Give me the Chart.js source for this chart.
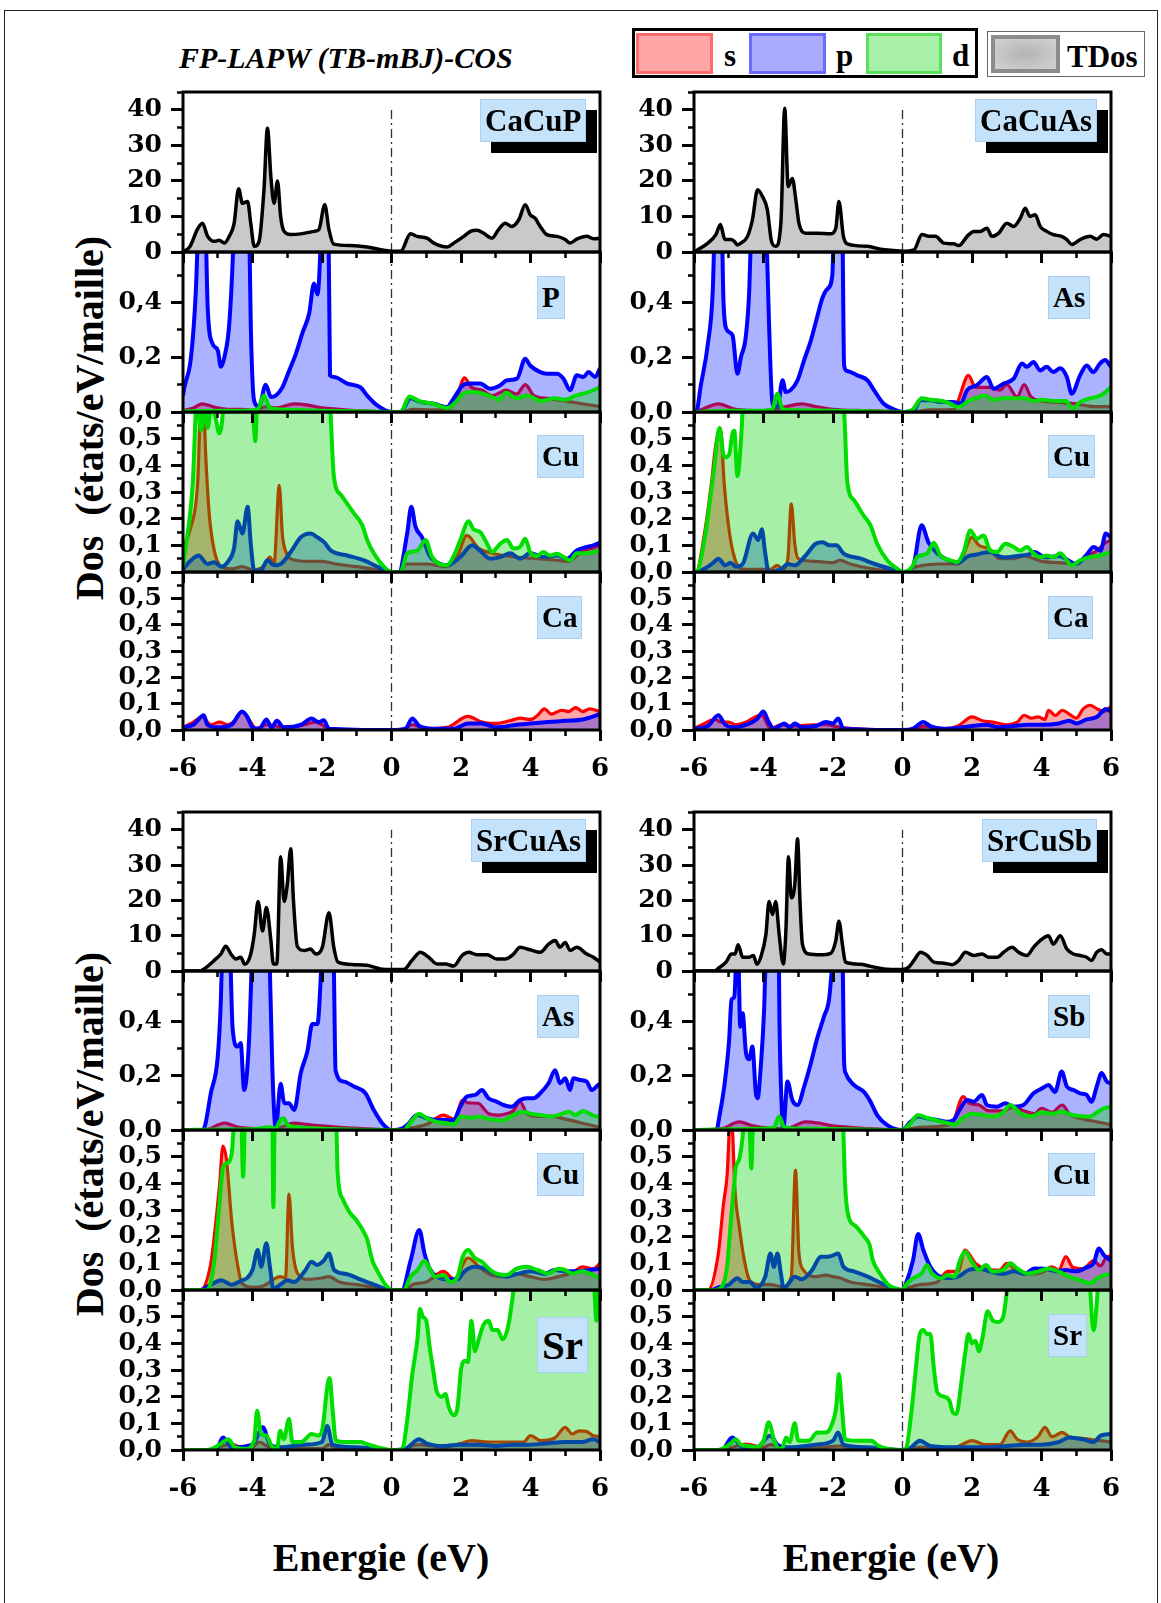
<!DOCTYPE html>
<html lang="fr">
<head>
<meta charset="UTF-8">
<title>DOS CaCuP, CaCuAs, SrCuAs, SrCuSb</title>
<script src="https://cdn.jsdelivr.net/npm/chart.js"></script>
<style>
  html, body { margin: 0; padding: 0; background: #fff; }
  body { width: 1161px; height: 1603px; position: relative; overflow: hidden;
         font-family: 'Liberation Serif', 'Times New Roman', serif; font-weight: bold; color: #000; }
  .abs { position: absolute; white-space: pre; }
  .frame { position: absolute; left: 4px; top: 10px; width: 1154px; height: 1600px; border: 1.5px solid #222; box-sizing: border-box; }
  .title { left: 179px; top: 40px; font-size: 30px; line-height: 36px; font-style: italic; }
  .legend { left: 632px; top: 28px; width: 346px; height: 50px; border: 3px solid #000; box-sizing: border-box; }
  .legend2 { left: 987px; top: 31px; width: 158px; height: 46px; border: 1.5px solid #666; box-sizing: border-box; }
  .sw { position: absolute; box-sizing: border-box; border-width: 3px; border-style: solid; }
  .lt { position: absolute; font-size: 31px; line-height: 40px; }
  .ytitle { font-size: 40px; line-height: 46px; transform: translate(-50%, -50%) rotate(-90deg); }
  .xtitle { font-size: 40px; line-height: 46px; transform: translate(-50%, -50%); }
  .plot { position: absolute; }
  .cbox, .ebox { position: absolute; background: #c4e3fb; border: 1.5px solid #a9d0f3; padding: 0 4px; z-index: 30; white-space: pre; }
  .cbox { font-size: 31px; line-height: 41px; box-shadow: 11px 11px 0 #000; }
  .ebox { font-size: 29px; line-height: 41px; }
</style>
</head>
<body>
<div class="frame"></div>
<div class="abs title">FP-LAPW (TB-mBJ)-COS</div>

<div class="abs legend"></div>
<div class="sw" style="left:636px;top:33px;width:77px;height:41px;background:#ffa6a6;border-color:#ff6a6a;"></div>
<div class="lt" style="left:724px;top:36px;">s</div>
<div class="sw" style="left:749px;top:33px;width:77px;height:41px;background:#aaaaff;border-color:#6a6aff;"></div>
<div class="lt" style="left:836px;top:36px;">p</div>
<div class="sw" style="left:866px;top:33px;width:76px;height:41px;background:#a8f0a8;border-color:#5ee05e;"></div>
<div class="lt" style="left:952px;top:36px;">d</div>
<div class="abs legend2"></div>
<div class="sw" style="left:991px;top:35px;width:69px;height:38px;background:radial-gradient(#b4b4b4, #d2d2d2);border-color:#8c8c8c;border-width:4px;"></div>
<div class="lt" style="left:1067px;top:37px;">TDos</div>

<div class="abs ytitle" style="left:90px;top:418px;">Dos  (états/eV/maille)</div>
<div class="abs ytitle" style="left:90px;top:1134px;">Dos  (états/eV/maille)</div>
<div class="abs xtitle" style="left:381px;top:1558px;">Energie (eV)</div>
<div class="abs xtitle" style="left:891px;top:1558px;">Energie (eV)</div>

<script>
// ---------- CaCuP ----------
const cacupTdos = [[-6,0],[-5.8,1.5],[-5.58,6.5],[-5.44,8.1],[-5.29,4.4],[-5.1,3],[-4.96,3.3],[-4.81,2.5],[-4.67,4.4],[-4.53,8],[-4.4,17.8],[-4.29,13.7],[-4.14,14.2],[-4.05,8],[-3.95,1.6],[-3.81,3],[-3.67,17.5],[-3.57,34.8],[-3.47,21],[-3.38,13.7],[-3.28,20],[-3.19,10],[-3.09,5.8],[-2.9,4.9],[-2.61,5.1],[-2.23,5.8],[-2.09,6.3],[-1.92,13.3],[-1.8,6.3],[-1.66,2.2],[-1.18,1.8],[-0.7,1.4],[-0.22,0.5],[0,0.2],[0.26,0.2],[0.55,5.1],[0.74,4.4],[1.02,3.9],[1.22,2.5],[1.6,1.4],[1.79,2.5],[2.08,4.4],[2.27,5.8],[2.46,6.1],[2.65,5.3],[2.89,3.9],[3.08,6.3],[3.27,8.1],[3.46,7.2],[3.66,9],[3.85,13.3],[3.99,10.5],[4.13,9.5],[4.28,7.2],[4.47,4.9],[4.76,4.4],[5.0,3.5],[5.14,2.5],[5.33,3.6],[5.62,4.4],[5.81,3.7],[6,3.9]];
const cacupP_s = [[-6,0.005],[-5.7,0.015],[-5.45,0.03],[-5.1,0.018],[-4.7,0.01],[-4.3,0.01],[-3.95,0.005],[-3.6,0.02],[-3.3,0.015],[-2.8,0.03],[-2.4,0.025],[-2.0,0.015],[-1.5,0.01],[-1,0.005],[0,0],[0.3,0],[0.6,0.01],[1.2,0.008],[1.6,0.01],[1.85,0.04],[2.1,0.125],[2.3,0.09],[2.6,0.08],[2.9,0.06],[3.3,0.08],[3.6,0.065],[3.85,0.1],[4.1,0.06],[4.5,0.05],[5.0,0.04],[5.5,0.03],[6,0.02]];
const cacupP_p = [[-6,0.06],[-5.96,0.09],[-5.77,0.2],[-5.63,0.445],[-5.5,0.9],[-5.42,0.95],[-5.35,0.7],[-5.29,0.384],[-5.15,0.25],[-5.0,0.226],[-4.91,0.165],[-4.81,0.2],[-4.67,0.32],[-4.55,0.62],[-4.4,1.3],[-4.25,1.4],[-4.12,0.9],[-4.05,0.32],[-3.95,0.04],[-3.81,0.02],[-3.62,0.1],[-3.47,0.055],[-3.33,0.06],[-3.14,0.09],[-2.95,0.15],[-2.76,0.21],[-2.56,0.29],[-2.37,0.36],[-2.23,0.47],[-2.13,0.43],[-2.04,0.62],[-1.95,1.1],[-1.82,0.8],[-1.77,0.134],[-1.66,0.128],[-1.27,0.104],[-0.89,0.09],[-0.7,0.06],[-0.41,0.024],[0,0],[0.26,0],[0.55,0.05],[0.83,0.037],[1.22,0.03],[1.6,0.018],[1.79,0.05],[2.08,0.1],[2.27,0.104],[2.55,0.104],[2.84,0.085],[3.13,0.098],[3.32,0.116],[3.61,0.122],[3.85,0.195],[3.99,0.17],[4.28,0.146],[4.47,0.14],[4.76,0.14],[4.95,0.122],[5.14,0.08],[5.33,0.134],[5.52,0.128],[5.67,0.146],[5.86,0.128],[6,0.16]];
const cacupP_d = [[-6,0.003],[-5,0.005],[-4.2,0.005],[-3.85,0.01],[-3.67,0.06],[-3.5,0.015],[-3,0.008],[-2,0.005],[-1,0.003],[0,0],[0.26,0],[0.52,0.057],[0.8,0.04],[1.2,0.03],[1.6,0.015],[1.8,0.03],[2.1,0.07],[2.4,0.073],[2.8,0.06],[3.1,0.045],[3.3,0.07],[3.6,0.05],[3.9,0.06],[4.3,0.04],[4.7,0.05],[5.0,0.045],[5.3,0.06],[5.6,0.07],[6,0.09]];
const cacupCu_s = [[-6,0.09],[-5.77,0.17],[-5.58,0.33],[-5.45,0.75],[-5.34,0.42],[-5.24,0.21],[-5.1,0.08],[-4.9,0.02],[-4.6,0.012],[-4.3,0.02],[-4.0,0.008],[-3.7,0.02],[-3.5,0.056],[-3.38,0.03],[-3.23,0.325],[-3.14,0.14],[-3.05,0.08],[-2.8,0.045],[-2.4,0.04],[-2.0,0.04],[-1.6,0.03],[-1.0,0.02],[-0.5,0.01],[0,0],[0.2,0],[0.45,0.03],[1.0,0.03],[1.6,0.02],[1.9,0.06],[2.17,0.137],[2.5,0.09],[2.9,0.07],[3.3,0.06],[3.7,0.055],[4.2,0.05],[4.7,0.045],[5.1,0.04],[5.5,0.08],[5.8,0.09],[6,0.1]];
const cacupCu_p = [[-6,0.01],[-5.8,0.04],[-5.55,0.062],[-5.3,0.03],[-5.1,0.037],[-4.9,0.02],[-4.7,0.04],[-4.53,0.09],[-4.43,0.19],[-4.29,0.144],[-4.14,0.245],[-4.05,0.106],[-3.95,0.006],[-3.76,0.006],[-3.57,0.044],[-3.38,0.025],[-3.19,0.03],[-2.9,0.075],[-2.61,0.13],[-2.33,0.144],[-2.13,0.13],[-1.94,0.112],[-1.75,0.081],[-1.27,0.062],[-0.79,0.044],[-0.41,0.02],[0,0],[0.21,0],[0.45,0.144],[0.57,0.245],[0.69,0.17],[0.88,0.13],[1.1,0.06],[1.22,0.044],[1.6,0.025],[1.98,0.056],[2.32,0.1],[2.55,0.08],[2.84,0.05],[3.13,0.056],[3.42,0.07],[3.7,0.05],[3.99,0.07],[4.37,0.056],[4.76,0.062],[5.05,0.05],[5.33,0.081],[5.62,0.094],[5.81,0.1],[6,0.11]];
const cacupCu_d = [[-6,0.02],[-5.72,0.33],[-5.6,0.65],[-5.48,0.53],[-5.38,0.62],[-5.29,0.54],[-5.18,0.64],[-5.05,0.57],[-4.96,0.52],[-4.86,0.59],[-4.75,0.9],[-4.5,1.4],[-4.2,1.2],[-4.05,0.8],[-3.96,0.55],[-3.92,0.49],[-3.86,0.7],[-3.6,2.2],[-3.3,3.5],[-3.0,2.6],[-2.6,1.8],[-2.2,1.4],[-1.9,1.0],[-1.77,0.65],[-1.66,0.36],[-1.46,0.29],[-1.08,0.22],[-0.84,0.175],[-0.7,0.12],[-0.51,0.07],[-0.22,0.02],[0,0],[0.26,0],[0.45,0.07],[0.74,0.08],[0.98,0.12],[1.17,0.056],[1.6,0.025],[1.79,0.06],[1.98,0.12],[2.22,0.19],[2.36,0.16],[2.55,0.15],[2.75,0.106],[2.89,0.075],[3.13,0.106],[3.32,0.12],[3.51,0.088],[3.7,0.094],[3.85,0.125],[3.99,0.075],[4.18,0.06],[4.37,0.075],[4.56,0.062],[4.76,0.068],[4.95,0.056],[5.14,0.044],[5.33,0.07],[5.62,0.07],[5.81,0.075],[6,0.08]];
const cacupCa_s = [[-6,0.01],[-5.7,0.03],[-5.45,0.05],[-5.2,0.02],[-4.95,0.03],[-4.7,0.02],[-4.5,0.037],[-4.3,0.07],[-4.1,0.04],[-3.9,0.005],[-3.6,0.02],[-3.3,0.015],[-3.0,0.01],[-2.5,0.02],[-2.2,0.03],[-2.0,0.02],[-1.8,0.002],[0,0],[0.3,0],[0.6,0.02],[1.0,0.005],[1.6,0.01],[2.2,0.052],[2.6,0.03],[3.0,0.025],[3.4,0.035],[3.7,0.045],[4.0,0.04],[4.2,0.055],[4.4,0.08],[4.6,0.06],[4.9,0.075],[5.1,0.07],[5.3,0.085],[5.5,0.07],[5.7,0.08],[6,0.07]];
const cacupCa_p = [[-6,0.01],[-5.7,0.02],[-5.4,0.056],[-5.3,0.02],[-5.0,0.01],[-4.6,0.02],[-4.3,0.07],[-4.15,0.05],[-4.0,0.01],[-3.8,0.005],[-3.6,0.04],[-3.45,0.01],[-3.3,0.035],[-3.1,0.01],[-2.6,0.02],[-2.3,0.044],[-2.1,0.03],[-1.95,0.037],[-1.8,0.005],[0,0],[0.4,0.005],[0.6,0.044],[0.8,0.015],[1.2,0.005],[1.8,0.005],[2.2,0.025],[2.6,0.025],[3.0,0.01],[3.6,0.02],[4.0,0.025],[4.5,0.03],[5.0,0.035],[5.5,0.04],[6,0.06]];

// ---------- CaCuAs ----------
const cacuasTdos = [[-6,0],[-5.9,0.6],[-5.6,2.5],[-5.37,4.9],[-5.24,7.7],[-5.11,3.5],[-4.94,3.5],[-4.84,3],[-4.75,2],[-4.65,2.5],[-4.46,4.4],[-4.32,9],[-4.17,17.5],[-4.03,15.6],[-3.89,11.9],[-3.77,3],[-3.65,1.6],[-3.5,8.1],[-3.39,40.4],[-3.29,18.4],[-3.17,20.7],[-3.07,14.7],[-2.98,8.1],[-2.78,5.3],[-2.45,5.3],[-2.07,5.1],[-1.92,6.7],[-1.83,14.2],[-1.7,4.4],[-1.59,2.3],[-1.01,1.6],[-0.63,0.8],[-0.25,0.4],[0,0.2],[0.33,0.6],[0.56,4.9],[0.76,4.4],[0.95,4.4],[1.19,2.5],[1.47,2.3],[1.62,1.8],[1.86,4.4],[2.05,5.8],[2.24,5.8],[2.43,6.7],[2.57,4.4],[2.77,5.3],[3.0,8.1],[3.2,7.2],[3.39,9.5],[3.53,12.3],[3.67,10],[3.82,10.5],[3.96,7.2],[4.15,5.8],[4.34,4.9],[4.58,4.4],[4.73,3.5],[4.87,2.1],[5.11,3.5],[5.4,4.4],[5.59,3.6],[5.78,4.9],[6,4.4]];
const cacuasAs_s = [[-6,0],[-5.8,0.008],[-5.3,0.03],[-4.8,0.01],[-4.0,0.005],[-3.5,0.015],[-2.9,0.03],[-2.5,0.02],[-2.0,0.01],[-1,0.005],[0,0],[0.3,0],[0.8,0.008],[1.5,0.01],[1.6,0.04],[1.9,0.134],[2.1,0.09],[2.5,0.09],[2.8,0.08],[3.0,0.1],[3.3,0.055],[3.5,0.1],[3.7,0.055],[4.0,0.04],[4.5,0.035],[5,0.03],[5.5,0.02],[6,0.02]];
const cacuasAs_p = [[-6,0],[-5.94,0],[-5.8,0.1],[-5.6,0.25],[-5.46,0.445],[-5.37,0.85],[-5.28,0.95],[-5.2,0.7],[-5.15,0.4],[-5.05,0.3],[-4.89,0.28],[-4.75,0.14],[-4.65,0.2],[-4.51,0.275],[-4.41,0.445],[-4.3,0.9],[-4.15,1.3],[-3.98,0.9],[-3.88,0.5],[-3.84,0.32],[-3.74,0.03],[-3.6,0.018],[-3.45,0.116],[-3.36,0.073],[-3.22,0.08],[-3.02,0.116],[-2.83,0.19],[-2.64,0.26],[-2.45,0.35],[-2.31,0.415],[-2.16,0.45],[-2.02,0.5],[-1.93,0.9],[-1.8,0.9],[-1.73,0.7],[-1.68,0.17],[-1.59,0.15],[-1.3,0.134],[-1.01,0.116],[-0.82,0.08],[-0.54,0.03],[-0.25,0.01],[0,0],[0.33,0.006],[0.52,0.043],[0.8,0.043],[1.09,0.037],[1.47,0.037],[1.67,0.03],[1.86,0.08],[2.14,0.098],[2.43,0.128],[2.62,0.085],[2.91,0.104],[3.2,0.122],[3.44,0.177],[3.58,0.165],[3.77,0.183],[3.96,0.152],[4.15,0.165],[4.34,0.146],[4.54,0.16],[4.73,0.128],[4.87,0.067],[5.11,0.134],[5.3,0.17],[5.49,0.146],[5.68,0.177],[5.83,0.19],[6,0.165]];
const cacuasAs_d = [[-6,0],[-5,0.005],[-4,0.005],[-3.75,0.01],[-3.6,0.067],[-3.45,0.01],[-3,0.006],[-2,0.005],[-1,0.003],[0,0],[0.3,0.01],[0.55,0.05],[0.8,0.045],[1.0,0.043],[1.3,0.035],[1.6,0.018],[1.9,0.04],[2.2,0.055],[2.4,0.06],[2.6,0.045],[2.9,0.05],[3.2,0.05],[3.5,0.05],[3.8,0.04],[4.0,0.045],[4.4,0.04],[4.7,0.04],[4.9,0.012],[5.1,0.035],[5.4,0.05],[5.7,0.06],[6,0.09]];
const cacuasCu_s = [[-6,0],[-5.94,0],[-5.7,0.144],[-5.51,0.32],[-5.37,0.48],[-5.24,0.54],[-5.13,0.33],[-4.99,0.156],[-4.84,0.056],[-4.65,0.012],[-4.3,0.01],[-3.8,0.01],[-3.6,0.025],[-3.45,0.01],[-3.3,0.05],[-3.2,0.256],[-3.1,0.106],[-3.0,0.05],[-2.5,0.04],[-2.0,0.035],[-1.8,0.044],[-1.5,0.03],[-1,0.015],[0,0],[0.4,0.02],[1.0,0.03],[1.6,0.03],[2.0,0.13],[2.2,0.1],[2.5,0.087],[2.8,0.05],[3.2,0.05],[3.5,0.06],[4,0.04],[4.5,0.035],[5,0.03],[5.3,0.06],[5.6,0.08],[5.8,0.106],[6,0.12]];
const cacuasCu_p = [[-6,0],[-5.94,0],[-5.6,0.02],[-5.4,0.04],[-5.3,0.05],[-5.1,0.025],[-4.95,0.035],[-4.8,0.02],[-4.6,0.03],[-4.3,0.144],[-4.15,0.12],[-4.05,0.16],[-3.95,0.07],[-3.85,0.0],[-3.5,0.01],[-3.3,0.03],[-3.1,0.025],[-2.8,0.06],[-2.5,0.106],[-2.3,0.112],[-2.1,0.1],[-1.9,0.1],[-1.7,0.07],[-1.2,0.05],[-0.8,0.03],[-0.3,0.01],[0,0],[0.3,0.02],[0.55,0.175],[0.75,0.11],[1.0,0.07],[1.3,0.045],[1.6,0.035],[1.9,0.06],[2.1,0.065],[2.5,0.075],[2.9,0.055],[3.3,0.06],[3.6,0.065],[3.8,0.075],[4.1,0.055],[4.5,0.06],[5.0,0.03],[5.3,0.065],[5.5,0.094],[5.7,0.08],[5.85,0.144],[6,0.13]];
const cacuasCu_d = [[-6,0],[-5.94,0],[-5.7,0.12],[-5.42,0.39],[-5.27,0.54],[-5.13,0.43],[-4.99,0.44],[-4.89,0.52],[-4.84,0.53],[-4.75,0.36],[-4.65,0.49],[-4.55,0.75],[-4.3,1.3],[-4.0,1.6],[-3.6,2.5],[-3.3,3.8],[-3.0,2.6],[-2.6,1.8],[-2.2,1.3],[-1.8,0.9],[-1.66,0.55],[-1.59,0.34],[-1.4,0.27],[-1.11,0.21],[-0.92,0.175],[-0.73,0.106],[-0.44,0.044],[-0.15,0.012],[0,0],[0.28,0.02],[0.42,0.056],[0.71,0.07],[0.9,0.11],[1.09,0.062],[1.38,0.044],[1.57,0.037],[1.76,0.075],[1.95,0.156],[2.14,0.125],[2.33,0.137],[2.53,0.08],[2.72,0.075],[2.96,0.106],[3.2,0.094],[3.39,0.08],[3.58,0.094],[3.77,0.07],[3.96,0.056],[4.15,0.062],[4.34,0.056],[4.54,0.07],[4.73,0.044],[4.87,0.025],[5.11,0.044],[5.4,0.056],[5.68,0.062],[6,0.075]];
const cacuasCa_s = [[-6,0.005],[-5.7,0.025],[-5.4,0.04],[-5.2,0.03],[-5.0,0.03],[-4.8,0.02],[-4.5,0.03],[-4.1,0.056],[-4.0,0.05],[-3.8,0.005],[-3.5,0.02],[-3.2,0.015],[-2.5,0.02],[-2.2,0.02],[-1.8,0.01],[0,0],[0.3,0],[0.6,0.015],[1.2,0.005],[1.6,0.015],[2.0,0.05],[2.3,0.035],[2.6,0.03],[3.0,0.02],[3.3,0.03],[3.5,0.056],[3.7,0.045],[3.9,0.05],[4.1,0.04],[4.2,0.075],[4.4,0.055],[4.6,0.075],[4.8,0.06],[5.0,0.045],[5.2,0.08],[5.4,0.094],[5.6,0.08],[5.8,0.07],[6,0.09]];
const cacuasCa_p = [[-6,0.005],[-5.6,0.015],[-5.3,0.056],[-5.1,0.02],[-4.8,0.01],[-4.5,0.02],[-4.2,0.04],[-4.0,0.07],[-3.85,0.03],[-3.7,0.005],[-3.4,0.025],[-3.25,0.01],[-3.1,0.025],[-2.9,0.01],[-2.5,0.015],[-2.2,0.03],[-2.0,0.025],[-1.85,0.044],[-1.7,0.005],[0,0],[0.3,0.005],[0.6,0.03],[0.8,0.015],[1.2,0.005],[2,0.015],[2.4,0.02],[2.8,0.01],[3.2,0.015],[3.6,0.02],[4,0.02],[4.5,0.025],[4.8,0.035],[5.0,0.025],[5.3,0.04],[5.6,0.05],[5.85,0.08],[6,0.07]];

// ---------- SrCuAs ----------
const srcuasTdos = [[-6,0],[-5.5,0],[-5.39,0.6],[-5.1,3],[-4.91,4.8],[-4.77,7],[-4.62,4.8],[-4.48,3.4],[-4.34,3.9],[-4.22,1.9],[-4.05,4.8],[-3.95,10.4],[-3.84,19.7],[-3.71,11.3],[-3.6,18],[-3.47,8.6],[-3.4,2],[-3.3,2],[-3.19,32.3],[-3.09,19.7],[-3.0,24.4],[-2.9,34.6],[-2.82,19.7],[-2.71,7],[-2.52,5.8],[-2.33,6.2],[-2.18,4.8],[-1.99,6.7],[-1.8,16.5],[-1.66,6.7],[-1.54,2.5],[-1.08,1.8],[-0.7,1.6],[-0.32,0.6],[0,0.4],[0.35,0.4],[0.59,3],[0.83,5.3],[1.07,3.9],[1.31,2],[1.55,2],[1.79,1.4],[2.03,4.4],[2.22,5.3],[2.46,4.6],[2.75,4.6],[3.03,3.4],[3.27,3.4],[3.51,4.8],[3.7,6.7],[3.99,6],[4.28,5.3],[4.52,7.6],[4.71,8.6],[4.85,6.7],[5.0,8.1],[5.14,5.8],[5.33,6.7],[5.62,4.8],[5.81,3.9],[6,2.5]];
const srcuasAs_s = [[-6,0],[-5.4,0],[-4.8,0.025],[-4.4,0.01],[-3.6,0.005],[-3.2,0.01],[-2.8,0.025],[-2.4,0.02],[-2.0,0.015],[-1.5,0.01],[-0.8,0.005],[0,0],[0.4,0.005],[1.0,0.02],[1.5,0.055],[1.8,0.04],[2.05,0.11],[2.2,0.1],[2.5,0.098],[2.8,0.06],[3.1,0.055],[3.3,0.06],[3.5,0.07],[3.7,0.104],[3.9,0.06],[4.2,0.05],[4.6,0.05],[5,0.04],[5.5,0.025],[6,0.01]];
const srcuasAs_p = [[-6,0],[-5.45,0],[-5.39,0.006],[-5.2,0.135],[-5.0,0.27],[-4.91,0.48],[-4.83,0.85],[-4.75,1.0],[-4.67,0.8],[-4.57,0.37],[-4.43,0.307],[-4.34,0.32],[-4.24,0.147],[-4.1,0.33],[-4.0,0.7],[-3.8,1.3],[-3.6,1.2],[-3.52,0.7],[-3.43,0.23],[-3.33,0.006],[-3.19,0.17],[-3.09,0.1],[-2.95,0.098],[-2.8,0.074],[-2.61,0.21],[-2.42,0.29],[-2.28,0.39],[-2.13,0.39],[-2.04,0.55],[-1.96,0.8],[-1.75,0.9],[-1.66,0.6],[-1.61,0.22],[-1.37,0.178],[-1.08,0.16],[-0.75,0.135],[-0.51,0.074],[-0.22,0.018],[0,0],[0.3,0.005],[0.45,0.018],[0.74,0.055],[1.02,0.043],[1.31,0.037],[1.6,0.037],[1.79,0.037],[1.98,0.086],[2.17,0.123],[2.41,0.129],[2.6,0.147],[2.79,0.117],[3.03,0.104],[3.22,0.092],[3.46,0.086],[3.7,0.11],[3.89,0.117],[4.09,0.117],[4.28,0.135],[4.52,0.172],[4.71,0.22],[4.85,0.172],[5.0,0.19],[5.14,0.147],[5.23,0.19],[5.43,0.184],[5.62,0.178],[5.76,0.147],[5.95,0.166],[6,0.17]];
const srcuasAs_d = [[-6,0],[-5,0.002],[-4,0.003],[-3.5,0.01],[-3.33,0.005],[-3.2,0.037],[-3.1,0.043],[-3.0,0.02],[-2.7,0.01],[-2,0.005],[0,0],[0.35,0],[0.6,0.037],[0.8,0.06],[1.0,0.045],[1.3,0.03],[1.6,0.025],[1.8,0.02],[2.0,0.05],[2.3,0.045],[2.5,0.05],[2.8,0.04],[3.2,0.035],[3.5,0.055],[3.8,0.067],[4.0,0.06],[4.3,0.055],[4.6,0.05],[4.9,0.06],[5.1,0.067],[5.3,0.055],[5.5,0.07],[5.7,0.06],[5.9,0.05],[6,0.05]];
const srcuasCu_s = [[-6,0],[-5.5,0],[-5.2,0.1],[-5.05,0.26],[-4.95,0.39],[-4.85,0.54],[-4.75,0.49],[-4.6,0.26],[-4.45,0.11],[-4.3,0.025],[-4.0,0.01],[-3.7,0.015],[-3.2,0.05],[-3.05,0.045],[-2.95,0.36],[-2.85,0.16],[-2.7,0.062],[-2.4,0.04],[-2.0,0.045],[-1.8,0.05],[-1.5,0.03],[-1,0.02],[-0.5,0.01],[0,0],[0.4,0],[0.6,0.02],[1.0,0.03],[1.5,0.07],[1.8,0.04],[2.2,0.12],[2.5,0.09],[2.8,0.06],[3.2,0.05],[3.6,0.06],[4.0,0.05],[4.4,0.04],[4.8,0.05],[5.2,0.065],[5.5,0.087],[5.8,0.08],[6,0.1]];
const srcuasCu_p = [[-6,0],[-5.5,0],[-5.2,0.02],[-4.9,0.037],[-4.6,0.02],[-4.4,0.03],[-4.0,0.075],[-3.85,0.15],[-3.75,0.087],[-3.6,0.175],[-3.5,0.087],[-3.4,0.006],[-3.2,0.02],[-3.0,0.037],[-2.8,0.03],[-2.5,0.07],[-2.3,0.106],[-2.15,0.094],[-1.95,0.11],[-1.8,0.137],[-1.65,0.075],[-1.3,0.06],[-0.9,0.04],[-0.5,0.02],[0,0],[0.3,0],[0.55,0.11],[0.8,0.225],[0.95,0.137],[1.1,0.08],[1.3,0.05],[1.6,0.04],[1.9,0.04],[2.1,0.07],[2.4,0.087],[2.7,0.08],[3.0,0.06],[3.3,0.05],[3.6,0.06],[4.0,0.07],[4.4,0.06],[4.7,0.075],[5.0,0.07],[5.4,0.07],[5.7,0.075],[6,0.08]];
const srcuasCu_d = [[-6,0],[-5.3,0],[-5.1,0.11],[-4.95,0.325],[-4.85,0.46],[-4.75,0.475],[-4.6,0.51],[-4.5,0.7],[-4.35,0.8],[-4.27,0.425],[-4.2,0.8],[-3.9,1.5],[-3.6,2.2],[-3.45,1.2],[-3.4,0.31],[-3.33,1.2],[-3.0,2.8],[-2.6,2.0],[-2.2,1.4],[-1.8,1.0],[-1.6,0.7],[-1.55,0.44],[-1.4,0.34],[-1.2,0.29],[-1.0,0.26],[-0.75,0.206],[-0.7,0.19],[-0.55,0.11],[-0.4,0.07],[-0.2,0.025],[0,0],[0.35,0],[0.55,0.05],[0.75,0.075],[0.95,0.11],[1.1,0.08],[1.25,0.05],[1.5,0.056],[1.7,0.03],[1.9,0.05],[2.05,0.125],[2.2,0.15],[2.4,0.12],[2.6,0.106],[2.8,0.08],[3.0,0.062],[3.3,0.056],[3.6,0.08],[3.9,0.087],[4.2,0.075],[4.5,0.062],[4.8,0.08],[5.0,0.075],[5.2,0.062],[5.5,0.07],[5.7,0.062],[5.9,0.05],[6,0.04]];
const srcuasSr_s = [[-6,0],[-5.2,0],[-5.0,0.01],[-4.6,0.022],[-4.3,0.008],[-4.0,0.01],[-3.8,0.03],[-3.5,0.01],[-3,0.01],[-2,0.005],[-1.8,0.02],[-1.6,0.005],[0,0],[0.4,0],[0.5,0.01],[0.8,0.02],[1.5,0.01],[2.0,0.025],[2.3,0.035],[2.8,0.03],[3.4,0.03],[3.8,0.03],[4.0,0.054],[4.3,0.035],[4.7,0.045],[5.0,0.085],[5.2,0.06],[5.4,0.072],[5.6,0.07],[5.8,0.054],[6,0.05]];
const srcuasSr_p = [[-6,0],[-5.2,0],[-5.0,0.01],[-4.85,0.047],[-4.6,0.01],[-4.0,0.02],[-3.7,0.085],[-3.5,0.02],[-3.2,0.01],[-2.5,0.02],[-2.0,0.03],[-1.85,0.09],[-1.7,0.02],[-1.0,0.01],[0,0],[0.4,0.005],[0.8,0.04],[1.0,0.025],[1.5,0.015],[2.0,0.02],[2.5,0.02],[3.0,0.015],[3.5,0.02],[4.0,0.02],[4.5,0.025],[5.0,0.03],[5.5,0.03],[5.8,0.04],[6,0.03]];
const srcuasSr_d = [[-6,0],[-5.3,0],[-5.0,0.016],[-4.85,0.03],[-4.7,0.04],[-4.5,0.01],[-4.2,0.004],[-3.95,0.035],[-3.87,0.147],[-3.75,0.06],[-3.6,0.054],[-3.45,0.016],[-3.3,0.004],[-3.2,0.072],[-3.1,0.04],[-2.95,0.116],[-2.85,0.03],[-2.6,0.03],[-2.3,0.06],[-2.1,0.054],[-1.98,0.085],[-1.85,0.235],[-1.78,0.27],[-1.7,0.16],[-1.6,0.035],[-1.3,0.03],[-0.9,0.03],[-0.7,0.022],[-0.4,0.01],[0,0],[0.3,0],[0.45,0.11],[0.6,0.285],[0.75,0.42],[0.82,0.53],[0.9,0.5],[1.0,0.485],[1.1,0.385],[1.2,0.3],[1.3,0.22],[1.45,0.2],[1.55,0.21],[1.65,0.16],[1.8,0.13],[1.9,0.16],[2.0,0.3],[2.1,0.335],[2.2,0.33],[2.3,0.485],[2.4,0.37],[2.5,0.41],[2.65,0.47],[2.8,0.485],[2.9,0.45],[3.05,0.45],[3.2,0.415],[3.35,0.46],[3.5,0.59],[3.7,0.85],[4.2,1.0],[4.8,1.1],[5.4,0.95],[5.8,0.7],[5.9,0.485],[5.97,0.65],[6,0.7]];

// ---------- SrCuSb ----------
const srcusbTdos = [[-6,0],[-5.4,0],[-5.32,0.6],[-5.08,2.5],[-4.92,4.8],[-4.82,4.8],[-4.73,7.4],[-4.6,3.9],[-4.41,3.9],[-4.29,4.4],[-4.19,1.9],[-4.08,3.9],[-3.93,10.4],[-3.84,19.7],[-3.74,16],[-3.65,19.7],[-3.55,10.4],[-3.43,2],[-3.36,10.4],[-3.28,32.3],[-3.2,20.7],[-3.1,24.4],[-3.02,37.4],[-2.95,19.7],[-2.88,7.6],[-2.69,4.8],[-2.35,4.6],[-2.07,5],[-1.92,8.6],[-1.83,14.1],[-1.73,7.6],[-1.64,2.5],[-1.21,1.9],[-0.92,1.3],[-0.54,0.6],[0,0.4],[0.18,1.1],[0.33,3],[0.52,5.3],[0.71,4.4],[0.9,2.5],[1.19,2.2],[1.43,1.8],[1.62,3],[1.81,5.3],[2.05,4.4],[2.29,4.8],[2.48,3.9],[2.72,3.9],[2.91,5.3],[3.15,6.7],[3.34,5.3],[3.58,4.4],[3.77,6.7],[3.96,8.6],[4.2,10],[4.34,7.6],[4.54,10],[4.73,6.2],[4.92,4.8],[5.11,4.4],[5.3,3.9],[5.44,3],[5.59,5.3],[5.73,6],[5.88,4.8],[6,4.8]];
const srcusbSb_s = [[-6,0],[-5.2,0.005],[-4.7,0.03],[-4.3,0.015],[-3.6,0.005],[-3.2,0.01],[-2.8,0.03],[-2.4,0.025],[-2.0,0.015],[-1.5,0.01],[-1,0.005],[0,0],[0.5,0.01],[1.4,0.02],[1.75,0.123],[1.9,0.1],[2.2,0.092],[2.5,0.07],[2.9,0.07],[3.2,0.085],[3.5,0.07],[3.8,0.06],[4.0,0.08],[4.3,0.065],[4.6,0.092],[4.8,0.06],[5.2,0.04],[5.6,0.03],[6,0.02]];
const srcusbSb_p = [[-6,0],[-5.35,0],[-5.27,0.05],[-5.13,0.16],[-4.99,0.33],[-4.92,0.48],[-4.84,0.49],[-4.77,0.65],[-4.72,0.62],[-4.67,0.38],[-4.6,0.43],[-4.51,0.29],[-4.41,0.26],[-4.32,0.307],[-4.22,0.135],[-4.17,0.117],[-4.08,0.23],[-3.98,0.45],[-3.9,0.8],[-3.7,1.3],[-3.58,0.9],[-3.54,0.4],[-3.5,0.17],[-3.43,0.006],[-3.31,0.178],[-3.17,0.11],[-3.02,0.092],[-2.83,0.16],[-2.64,0.245],[-2.45,0.34],[-2.26,0.417],[-2.11,0.485],[-1.97,0.7],[-1.85,0.9],[-1.73,0.7],[-1.68,0.25],[-1.64,0.21],[-1.4,0.166],[-1.11,0.14],[-0.92,0.104],[-0.73,0.055],[-0.44,0.018],[0,0],[0.23,0.03],[0.47,0.05],[0.71,0.043],[1.0,0.037],[1.28,0.03],[1.47,0.037],[1.67,0.08],[1.86,0.11],[2.05,0.104],[2.29,0.129],[2.43,0.092],[2.72,0.086],[2.96,0.098],[3.2,0.086],[3.48,0.092],[3.77,0.135],[4.01,0.153],[4.2,0.166],[4.39,0.14],[4.58,0.215],[4.73,0.16],[4.92,0.147],[5.11,0.135],[5.3,0.129],[5.44,0.104],[5.59,0.16],[5.73,0.21],[5.88,0.178],[6,0.172]];
const srcusbSb_d = [[-6,0],[-5,0.003],[-4,0.005],[-3.7,0.01],[-3.55,0.05],[-3.4,0.01],[-3,0.005],[-2,0.004],[0,0],[0.2,0.02],[0.45,0.055],[0.7,0.045],[1.0,0.035],[1.3,0.025],[1.5,0.02],[1.75,0.045],[2.0,0.06],[2.3,0.055],[2.6,0.05],[2.9,0.065],[3.1,0.092],[3.4,0.06],[3.7,0.05],[4.0,0.065],[4.3,0.06],[4.6,0.067],[4.9,0.055],[5.2,0.05],[5.4,0.05],[5.6,0.065],[5.8,0.08],[6,0.085]];
const srcusbCu_s = [[-6,0],[-5.6,0],[-5.3,0.137],[-5.15,0.325],[-5.05,0.425],[-4.95,0.65],[-4.9,0.62],[-4.82,0.375],[-4.7,0.24],[-4.55,0.11],[-4.4,0.037],[-4.1,0.02],[-3.8,0.02],[-3.45,0.012],[-3.2,0.05],[-3.08,0.45],[-2.98,0.137],[-2.85,0.075],[-2.5,0.05],[-2.2,0.056],[-2.0,0.05],[-1.8,0.045],[-1.5,0.03],[-1,0.02],[-0.5,0.01],[0,0],[0.2,0.01],[0.5,0.02],[1.0,0.03],[1.3,0.07],[1.6,0.07],[1.8,0.15],[2.1,0.1],[2.4,0.08],[2.8,0.075],[3.0,0.1],[3.3,0.07],[3.7,0.06],[4.0,0.065],[4.3,0.087],[4.5,0.075],[4.7,0.125],[4.9,0.085],[5.2,0.08],[5.5,0.11],[5.7,0.09],[5.85,0.12],[6,0.13]];
const srcusbCu_p = [[-6,0],[-5.5,0],[-5.3,0.01],[-5.0,0.02],[-4.75,0.044],[-4.6,0.03],[-4.4,0.03],[-4.2,0.01],[-3.95,0.05],[-3.8,0.137],[-3.7,0.087],[-3.6,0.137],[-3.5,0.062],[-3.42,0.006],[-3.3,0.02],[-3.1,0.05],[-2.9,0.04],[-2.6,0.075],[-2.35,0.125],[-2.15,0.125],[-2.0,0.13],[-1.85,0.137],[-1.7,0.087],[-1.4,0.07],[-1.0,0.05],[-0.6,0.025],[0,0],[0.1,0.025],[0.3,0.11],[0.45,0.21],[0.6,0.15],[0.8,0.087],[1.0,0.056],[1.3,0.045],[1.6,0.05],[1.9,0.075],[2.2,0.08],[2.5,0.07],[2.9,0.06],[3.2,0.07],[3.5,0.06],[3.8,0.081],[4.1,0.08],[4.4,0.07],[4.7,0.075],[5.0,0.07],[5.3,0.085],[5.5,0.1],[5.65,0.156],[5.8,0.13],[6,0.11]];
const srcusbCu_d = [[-6,0],[-5.4,0],[-5.2,0.012],[-5.05,0.087],[-4.95,0.24],[-4.85,0.39],[-4.8,0.46],[-4.7,0.49],[-4.6,0.575],[-4.5,0.75],[-4.42,0.7],[-4.35,0.456],[-4.28,0.8],[-4.0,1.6],[-3.6,2.5],[-3.2,3.5],[-2.8,2.5],[-2.4,1.8],[-2.0,1.2],[-1.75,0.8],[-1.65,0.39],[-1.55,0.275],[-1.35,0.24],[-1.1,0.2],[-0.95,0.17],[-0.85,0.11],[-0.65,0.062],[-0.4,0.019],[-0.15,0.004],[0,0],[0.1,0.02],[0.3,0.044],[0.55,0.062],[0.7,0.094],[0.85,0.062],[1.1,0.044],[1.3,0.056],[1.5,0.05],[1.65,0.11],[1.8,0.144],[2.0,0.106],[2.2,0.075],[2.4,0.094],[2.6,0.069],[2.9,0.075],[3.1,0.1],[3.3,0.081],[3.6,0.062],[3.9,0.069],[4.2,0.081],[4.5,0.069],[4.8,0.05],[5.1,0.037],[5.4,0.025],[5.6,0.044],[5.8,0.056],[6,0.06]];
const srcusbSr_s = [[-6,0],[-5.2,0],[-4.9,0.01],[-4.5,0.022],[-4.0,0.01],[-3.8,0.02],[-3.5,0.01],[-2.5,0.008],[-1.8,0.015],[-1.5,0.005],[0,0],[0.5,0.01],[1.0,0.01],[1.5,0.01],[2.0,0.035],[2.4,0.02],[2.8,0.02],[3.1,0.072],[3.3,0.04],[3.6,0.03],[3.9,0.05],[4.1,0.085],[4.3,0.05],[4.6,0.066],[4.8,0.05],[5.1,0.045],[5.4,0.04],[5.7,0.035],[6,0.03]];
const srcusbSr_p = [[-6,0],[-5.2,0],[-4.9,0.047],[-4.6,0.01],[-4.2,0.01],[-3.8,0.054],[-3.6,0.02],[-3.3,0.01],[-2.5,0.02],[-2.0,0.035],[-1.85,0.066],[-1.7,0.02],[-1.0,0.01],[0,0],[0.2,0.005],[0.5,0.035],[0.8,0.015],[1.5,0.01],[2.0,0.01],[2.5,0.01],[3,0.015],[3.5,0.02],[4,0.02],[4.5,0.03],[4.8,0.047],[5.2,0.04],[5.5,0.03],[5.7,0.054],[6,0.06]];
const srcusbSr_d = [[-6,0],[-5.3,0],[-5.1,0.01],[-4.9,0.03],[-4.8,0.04],[-4.65,0.02],[-4.45,0.015],[-4.2,0.01],[-4.0,0.035],[-3.85,0.104],[-3.7,0.04],[-3.55,0.004],[-3.45,0.01],[-3.35,0.047],[-3.25,0.03],[-3.1,0.1],[-3.0,0.035],[-2.7,0.035],[-2.45,0.066],[-2.2,0.066],[-2.05,0.09],[-1.9,0.17],[-1.83,0.285],[-1.75,0.17],[-1.65,0.04],[-1.3,0.035],[-0.9,0.035],[-0.7,0.016],[-0.4,0.004],[0,0],[0.1,0.005],[0.25,0.135],[0.35,0.26],[0.5,0.435],[0.6,0.45],[0.7,0.435],[0.8,0.435],[0.9,0.31],[1.0,0.216],[1.2,0.2],[1.35,0.185],[1.45,0.14],[1.55,0.135],[1.7,0.26],[1.8,0.36],[1.9,0.435],[2.0,0.4],[2.1,0.41],[2.2,0.37],[2.3,0.42],[2.45,0.52],[2.6,0.485],[2.75,0.48],[2.9,0.5],[3.0,0.59],[3.2,0.8],[3.8,1.0],[4.5,1.1],[5.1,0.9],[5.35,0.7],[5.5,0.45],[5.6,0.57],[5.7,0.8],[6,0.9]];

// energy window and axis settings for each kind of layer
const energyMin = -6, energyMax = 6;
const axisKinds = {
  tdos:  { max: 45,    step: 10,  minor: 5,    fermiTop: 40 },
  anion: { max: 0.585, step: 0.2, minor: 0.1,  fermiTop: 0.585 },
  pdos:  { max: 0.6,   step: 0.1, minor: 0.05, fermiTop: 0.6 }
};

const orbitalStyle = {
  s: { line: '#ff0000', fill: 'rgba(255, 0, 0, 0.35)',  width: 3.2, order: 3 },
  p: { line: '#0000ff', fill: 'rgba(0, 20, 255, 0.33)', width: 4,   order: 2 },
  d: { line: '#00dd00', fill: 'rgba(0, 210, 0, 0.35)',  width: 4,   order: 1 }
};

const panels = [
  { name: 'CaCuP',  anion: 'P',  cation: 'Ca', cationFont: 29, left: 183, top: 92,  heights: [160, 160, 160, 158],
    tdos: cacupTdos,  anionPdos: [cacupP_s, cacupP_p, cacupP_d],    cuPdos: [cacupCu_s, cacupCu_p, cacupCu_d],    cationPdos: [cacupCa_s, cacupCa_p, null] },
  { name: 'CaCuAs', anion: 'As', cation: 'Ca', cationFont: 29, left: 694, top: 92,  heights: [160, 160, 160, 158],
    tdos: cacuasTdos, anionPdos: [cacuasAs_s, cacuasAs_p, cacuasAs_d], cuPdos: [cacuasCu_s, cacuasCu_p, cacuasCu_d], cationPdos: [cacuasCa_s, cacuasCa_p, null] },
  { name: 'SrCuAs', anion: 'As', cation: 'Sr', cationFont: 41, left: 183, top: 812, heights: [159, 159, 160, 160],
    tdos: srcuasTdos, anionPdos: [srcuasAs_s, srcuasAs_p, srcuasAs_d], cuPdos: [srcuasCu_s, srcuasCu_p, srcuasCu_d], cationPdos: [srcuasSr_s, srcuasSr_p, srcuasSr_d] },
  { name: 'SrCuSb', anion: 'Sb', cation: 'Sr', cationFont: 29, left: 694, top: 812, heights: [159, 159, 160, 160],
    tdos: srcusbTdos, anionPdos: [srcusbSb_s, srcusbSb_p, srcusbSb_d], cuPdos: [srcusbCu_s, srcusbCu_p, srcusbCu_d], cationPdos: [srcusbSr_s, srcusbSr_p, srcusbSr_d] }
];

// canvas margins around each plot area; top/bottom leave room for the y label padding
const PLOT_W = 417, AXIS_W = 80, PAD_TOP = 30, PAD_RIGHT = 26, BELOW_INNER = 30, BELOW_LAST = 60;
const yFont = { family: "'DejaVu Serif', serif", weight: 'bold', size: 25 };
const xFont = { family: "'DejaVu Serif', serif", weight: 'bold', size: 26 };
const decimal = v => v.toFixed(1).replace('.', ',');

// thick black box around each layer
const framePlugin = {
  id: 'frame',
  afterDraw(chart) {
    const { ctx, chartArea: a } = chart;
    ctx.save();
    ctx.lineWidth = 3;
    ctx.strokeStyle = '#000';
    ctx.strokeRect(a.left, a.top, a.right - a.left, a.bottom - a.top);
    ctx.restore();
  }
};

function curve(points, st) {
  return {
    data: points, borderColor: st.line, backgroundColor: st.fill, borderWidth: st.width,
    fill: 'origin', pointRadius: 0, cubicInterpolationMode: 'monotone', borderJoinStyle: 'round',
    order: st.order, xAxisID: 'x', yAxisID: 'y'
  };
}

function tickGrid(len, width) {
  return { drawOnChartArea: false, tickLength: len, tickWidth: width, color: '#000' };
}

function buildLayer(panel, index, kind, series, isBottom) {
  const k = axisKinds[kind];
  const top = panel.top + panel.heights.slice(0, index).reduce((a, b) => a + b, 0);
  const h = panel.heights[index];
  const below = isBottom ? BELOW_LAST : BELOW_INNER;

  const wrap = document.createElement('div');
  wrap.className = 'plot';
  wrap.style.left = (panel.left - AXIS_W) + 'px';
  wrap.style.top = (top - PAD_TOP) + 'px';
  wrap.style.width = (AXIS_W + PLOT_W + PAD_RIGHT) + 'px';
  wrap.style.height = (PAD_TOP + h + below) + 'px';
  wrap.style.zIndex = 10 - index;
  const canvas = document.createElement('canvas');
  wrap.appendChild(canvas);
  document.body.appendChild(wrap);

  // Fermi level
  const datasets = [{
    data: [[0, 0], [0, k.fermiTop]], borderColor: '#333', borderWidth: 1.3, borderDash: [9, 4, 2, 4],
    pointRadius: 0, fill: false, order: 9, xAxisID: 'x', yAxisID: 'y'
  }];
  if (kind === 'tdos') {
    datasets.push({
      data: series, borderColor: '#000', backgroundColor: 'rgba(120, 120, 120, 0.4)', borderWidth: 3.5,
      fill: 'origin', pointRadius: 0, cubicInterpolationMode: 'monotone', borderJoinStyle: 'round',
      order: 1, xAxisID: 'x', yAxisID: 'y'
    });
  } else {
    ['s', 'p', 'd'].forEach((o, j) => { if (series[j]) datasets.push(curve(series[j], orbitalStyle[o])); });
  }

  const yLabel = kind === 'tdos' ? (v => String(v)) : (v => (v > 0.55 ? '' : decimal(v)));

  new Chart(canvas, {
    type: 'line',
    data: { datasets },
    options: {
      responsive: true, maintainAspectRatio: false, animation: false, events: [],
      layout: { padding: { left: 0, top: PAD_TOP, right: PAD_RIGHT, bottom: 0 } },
      plugins: { legend: { display: false }, tooltip: { enabled: false } },
      scales: {
        xm: { type: 'linear', position: 'bottom', weight: 0, min: energyMin, max: energyMax,
              ticks: { stepSize: 1, display: false }, grid: tickGrid(6, 2.5), border: { display: false },
              afterFit: s => { s.height = 0; } },
        x:  { type: 'linear', position: 'bottom', weight: 1, min: energyMin, max: energyMax,
              ticks: { stepSize: 2, display: isBottom, autoSkip: false, maxRotation: 0, padding: 13,
                       color: '#000', font: xFont, callback: v => String(v) },
              grid: tickGrid(11, 3), border: { display: false },
              afterFit: s => { s.height = below; } },
        ym: { type: 'linear', position: 'left', weight: 0, min: 0, max: k.max,
              ticks: { stepSize: k.minor, display: false, includeBounds: false }, grid: tickGrid(6, 2.5),
              border: { display: false }, afterFit: s => { s.width = 0; } },
        y:  { type: 'linear', position: 'left', weight: 1, min: 0, max: k.max,
              ticks: { stepSize: k.step, includeBounds: false, autoSkip: false, padding: 9,
                       color: '#000', font: yFont, callback: yLabel },
              grid: tickGrid(12, 3), border: { display: false },
              afterFit: s => { s.width = AXIS_W; } }
      }
    },
    plugins: [framePlugin]
  });
  return top;
}

function addBox(cls, text, left, top, fontSize) {
  const el = document.createElement('div');
  el.className = cls;
  el.textContent = text;
  el.style.top = top + 'px';
  if (fontSize) el.style.fontSize = fontSize + 'px';
  document.body.appendChild(el);
  if (left < 0) el.style.left = (-left - el.offsetWidth) + 'px';
  else el.style.left = left + 'px';
  return el;
}

panels.forEach(panel => {
  buildLayer(panel, 0, 'tdos', panel.tdos, false);
  const tAnion = buildLayer(panel, 1, 'anion', panel.anionPdos, false);
  const tCu = buildLayer(panel, 2, 'pdos', panel.cuPdos, false);
  const tCation = buildLayer(panel, 3, 'pdos', panel.cationPdos, true);

  // compound name, right-aligned inside the TDOS layer (negative left = right edge)
  addBox('cbox', panel.name, -(panel.left + PLOT_W - 14), panel.top + 7);
  const bx = panel.left + 354;
  addBox('ebox', panel.anion, bx, tAnion + 24);
  addBox('ebox', 'Cu', bx, tCu + 23);
  const big = panel.cationFont > 30;
  const cb = addBox('ebox', panel.cation, bx, tCation + (big ? 27 : 24), panel.cationFont);
  if (big) cb.style.lineHeight = '54px';
});
</script>
</body>
</html>
